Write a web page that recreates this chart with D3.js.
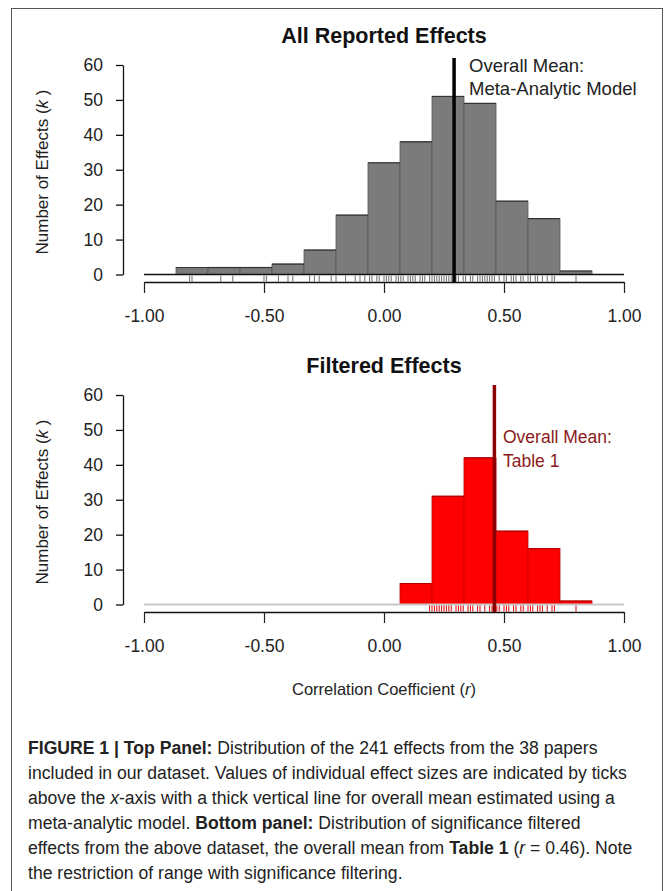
<!DOCTYPE html>
<html><head><meta charset="utf-8">
<script src="https://cdn.jsdelivr.net/npm/d3@7"></script>
<style>
body{margin:0;background:#fff;}
svg{display:block;font-family:"Liberation Sans",Arial,Helvetica,sans-serif;}
</style></head>
<body>
<svg id="chart" width="668" height="891"></svg>
<script>
// ---- data ----
const binEdges = [-0.8667,-0.7333,-0.6,-0.4667,-0.3333,-0.2,-0.0667,0.0667,0.2,0.3333,0.4667,0.6,0.7333,0.8667];
const allCounts = [2,2,2,3,7,17,32,38,51,49,21,16,1];
const filteredCounts = [0,0,0,0,0,0,0,6,31,42,21,16,1];
const allRug = [-0.81,-0.80,-0.68,-0.63,-0.50,-0.49,-0.44,-0.40,-0.38,-0.31,-0.29,-0.27,-0.22,-0.20,-0.16,
  -0.12,-0.10,-0.08,-0.06,-0.05,-0.03,-0.02,0.00,0.01,0.02,0.03,0.05,0.06,0.07,0.08,0.10,0.11,0.12,0.13,
  0.15,0.16,0.17,0.19,0.20,0.21,0.22,0.23,0.24,0.25,0.26,0.27,0.28,0.29,0.30,0.31,0.33,0.34,0.36,0.37,
  0.39,0.40,0.41,0.42,0.43,0.44,0.45,0.46,0.48,0.50,0.51,0.53,0.54,0.55,0.57,0.58,0.60,0.61,0.63,0.64,
  0.66,0.68,0.70,0.71,0.80];
const filteredRug = [0.19,0.20,0.21,0.22,0.23,0.24,0.25,0.26,0.27,0.28,0.30,0.31,0.32,0.33,0.35,0.36,0.37,
  0.39,0.40,0.42,0.44,0.45,0.47,0.48,0.50,0.51,0.52,0.54,0.55,0.57,0.58,0.60,0.61,0.62,0.64,0.65,0.66,
  0.68,0.70,0.71,0.80];
const xTicks = [-1,-0.5,0,0.5,1];
const xTickLabels = ["-1.00","-0.50","0.00","0.50","1.00"];
const yTicks = [0,10,20,30,40,50,60];
const meanAll = 0.292;
const meanFiltered = 0.46;
const titles = ["All Reported Effects","Filtered Effects"];
const meanLabels = [["Overall Mean:","Meta-Analytic Model"],["Overall Mean:","Table 1"]];

// ---- drawing ----
const svg = d3.select("#chart");
svg.append("rect").attr("x",11.5).attr("y",8.5).attr("width",651).attr("height",900)
  .attr("fill","none").attr("stroke","#555").attr("stroke-width",1);

const x = d3.scaleLinear().domain([-1,1]).range([144,624]);
const FONT = "Liberation Sans, Arial, sans-serif";

const panels = [
  {off:0, counts:allCounts, rug:allRug, mean:meanAll, fill:"#7b7b7b", stroke:"#5a5a5a",
   rugColor:"#6a6a6a", baseColor:"#111", meanColor:"#000", textColor:"#222", labelX:469, labelY:[72,95], meanTop:58, labelSize:18.5},
  {off:330, counts:filteredCounts, rug:filteredRug, mean:meanFiltered, fill:"#ff0000", stroke:"#c80000",
   rugColor:"#e00000", baseColor:"#c8c8c8", meanColor:"#8b0000", textColor:"#8b1a1a", labelX:503, labelY:[443,467], meanTop:385, labelSize:17.5}
];

panels.forEach((p,i)=>{
  const y = d3.scaleLinear().domain([0,60]).range([274.5+p.off, 65+p.off]);
  const g = svg.append("g");
  g.append("text").attr("x",384).attr("y",43+p.off).attr("text-anchor","middle")
    .attr("font-weight","bold").attr("font-size",21.5).attr("fill","#111").text(titles[i]);
  const bars = p.counts.map((c,j)=>({x0:binEdges[j],x1:binEdges[j+1],c})).filter(d=>d.c>0);
  g.selectAll("rect.bar").data(bars).enter().append("rect")
    .attr("x",d=>x(d.x0)).attr("width",d=>x(d.x1)-x(d.x0))
    .attr("y",d=>y(d.c)).attr("height",d=>y(0)-y(d.c))
    .attr("fill",p.fill).attr("stroke",p.stroke).attr("stroke-width",0.8);
  g.selectAll("line.top").data(bars).enter().append("line")
    .attr("x1",d=>x(d.x0)).attr("x2",d=>x(d.x1)).attr("y1",d=>y(d.c)).attr("y2",d=>y(d.c))
    .attr("stroke",i===0?"#333":"#b00000").attr("stroke-width",1.2);
  g.append("line").attr("x1",x(-1)).attr("x2",x(1)).attr("y1",y(0)).attr("y2",y(0))
    .attr("stroke",p.baseColor).attr("stroke-width",i===0?1.3:2);
  g.selectAll("line.rug").data(p.rug).enter().append("line")
    .attr("x1",d=>x(d)).attr("x2",d=>x(d)).attr("y1",y(0)+1).attr("y2",y(0)+7)
    .attr("stroke",p.rugColor).attr("stroke-width",1);
  const xa = g.append("g").attr("transform",`translate(0,${282+p.off})`)
    .call(d3.axisBottom(x).tickValues(xTicks).tickFormat((d,k)=>xTickLabels[k]).tickSize(11).tickSizeOuter(0).tickPadding(17));
  xa.select(".domain").attr("stroke","#111").attr("stroke-width",1.3);
  xa.selectAll(".tick line").attr("stroke","#222").attr("stroke-width",1.2);
  xa.selectAll(".tick text").attr("font-size",17.5).attr("fill","#222").attr("font-family",FONT);
  const ya = g.append("g").attr("transform","translate(123,0)")
    .call(d3.axisLeft(y).tickValues(yTicks).tickSize(7).tickSizeOuter(0).tickPadding(13));
  ya.select(".domain").attr("stroke","#111").attr("stroke-width",1.3);
  ya.selectAll(".tick line").attr("stroke","#111").attr("stroke-width",1.3);
  ya.selectAll(".tick text").attr("font-size",17.5).attr("fill","#222").attr("font-family",FONT);
  const yl = g.append("text").attr("transform",`translate(48,${172+p.off}) rotate(-90)`)
    .attr("text-anchor","middle").attr("font-size",17).attr("fill","#222");
  yl.append("tspan").text("Number of Effects (");
  yl.append("tspan").attr("font-style","italic").text("k");
  yl.append("tspan").text(" )");
  g.append("line").attr("x1",x(p.mean)).attr("x2",x(p.mean)).attr("y1",p.meanTop).attr("y2",282+p.off)
    .attr("stroke",p.meanColor).attr("stroke-width",3.5);
  meanLabels[i].forEach((t,k)=>{
    g.append("text").attr("x",p.labelX).attr("y",p.labelY[k]).attr("font-size",p.labelSize)
      .attr("fill",p.textColor).text(t);
  });
});

const xl = svg.append("text").attr("x",384).attr("y",695).attr("text-anchor","middle")
  .attr("font-size",16.5).attr("fill","#222");
xl.append("tspan").text("Correlation Coefficient (");
xl.append("tspan").attr("font-style","italic").text("r");
xl.append("tspan").text(")");

const captionLines = [
  [["b","FIGURE 1 | Top Panel:"],["n"," Distribution of the 241 effects from the 38 papers"]],
  [["n","included in our dataset. Values of individual effect sizes are indicated by ticks"]],
  [["n","above the "],["i","x"],["n","-axis with a thick vertical line for overall mean estimated using a"]],
  [["n","meta-analytic model. "],["b","Bottom panel:"],["n"," Distribution of significance filtered"]],
  [["n","effects from the above dataset, the overall mean from "],["b","Table 1"],["n"," ("],["i","r"],["n"," = 0.46). Note"]],
  [["n","the restriction of range with significance filtering."]]
];
captionLines.forEach((line,k)=>{
  const t = svg.append("text").attr("x",28).attr("y",754+25*k).attr("font-size",17.6).attr("fill","#222");
  line.forEach(([s,txt])=>{
    const ts = t.append("tspan").text(txt);
    if(s==="b") ts.attr("font-weight","bold");
    if(s==="i") ts.attr("font-style","italic");
  });
});
</script>
</body></html>
